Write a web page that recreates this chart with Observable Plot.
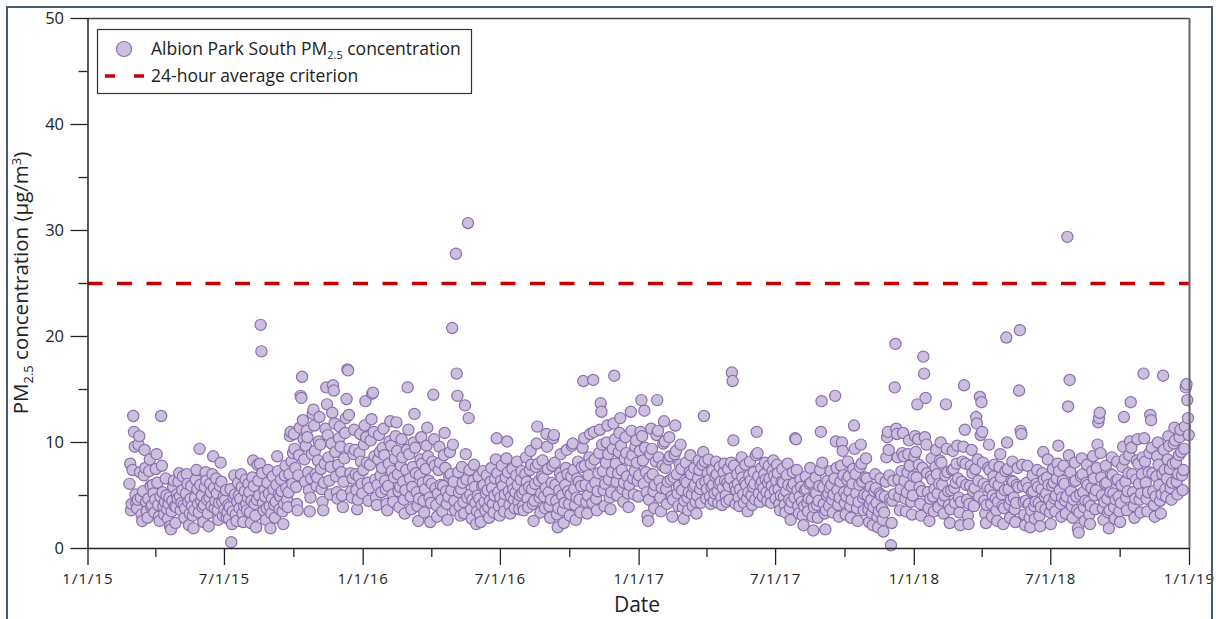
<!DOCTYPE html>
<html>
<head>
<meta charset="utf-8">
<script src="https://cdn.jsdelivr.net/npm/d3@7"></script>
<script src="https://cdn.jsdelivr.net/npm/@observablehq/plot@0.6"></script>
<style>
  html, body { margin: 0; padding: 0; background: #fff; }
  #wrap { position: relative; width: 1216px; height: 619px; overflow: hidden; }
  #border { position: absolute; left: 6px; top: 6px; width: 1203px; height: 720px; border: 2px solid #4b5a6d; box-sizing: content-box; pointer-events: none; }
  #chart { position: absolute; left: 0; top: 0; }
</style>
</head>
<body>
<div id="wrap"><div id="chart"></div><div id="border"></div></div>
<script>
// ---- Data (daily PM2.5, µg/m³), one sub-array per month ----
// 2015 starts on 25 Feb
const pm2015 = [
  [6.1, 8.0, 3.6, 4.2],
  [7.4, 12.5, 11.0, 9.6, 5.1, 4.3, 3.8, 4.6, 9.8, 10.6, 7.2, 4.8, 3.2, 2.6, 5.4, 6.9, 9.3, 7.6, 4.4, 3.5, 2.9, 4.7, 7.3, 8.4, 5.9, 3.9, 4.1, 6.0, 5.2, 3.4, 4.6],
  [7.5, 8.9, 6.2, 4.1, 3.0, 2.6, 4.9, 12.5, 7.8, 5.3, 4.0, 3.2, 4.4, 6.6, 5.0, 3.7, 2.8, 4.2, 4.8, 2.1, 1.8, 3.5, 4.5, 5.8, 6.4, 4.0, 2.4, 3.9, 5.1, 4.7],
  [6.3, 7.1, 4.9, 3.6, 4.3, 5.5, 6.8, 4.1, 2.9, 3.8, 5.2, 7.0, 6.1, 4.4, 2.2, 3.3, 4.7, 5.9, 4.0, 3.1, 1.9, 3.6, 4.8, 6.5, 7.4, 5.6, 4.2, 3.4, 9.4, 6.0, 4.5],
  [5.0, 3.9, 2.5, 4.1, 5.8, 7.2, 6.4, 4.6, 3.3, 2.1, 4.8, 6.1, 5.3, 4.0, 7.0, 8.7, 5.7, 3.8, 4.5, 6.6, 5.2, 3.6, 2.7, 4.3, 5.9, 8.1, 6.3, 4.4, 3.1, 4.9],
  [3.7, 4.6, 5.5, 2.9, 3.4, 4.1, 2.8, 3.9, 5.6, 0.6, 2.3, 3.5, 4.8, 6.9, 5.1, 3.2, 2.6, 4.4, 6.2, 5.0, 3.8, 4.7, 7.0, 5.8, 3.3, 2.5, 4.0, 5.4, 6.5, 4.2, 3.6],
  [4.8, 6.1, 5.3, 3.4, 2.4, 4.5, 6.7, 8.3, 5.9, 4.2, 3.1, 2.0, 4.6, 7.9, 6.4, 5.0, 8.0, 21.1, 18.6, 7.1, 4.3, 3.6, 5.5, 4.9, 2.7, 3.8, 6.2, 7.4, 5.2, 4.0, 1.9],
  [3.3, 4.7, 6.8, 5.6, 4.1, 2.9, 4.4, 6.0, 8.7, 7.3, 5.1, 3.7, 4.9, 6.5, 5.4, 3.5, 2.3, 4.2, 6.9, 7.8, 5.7, 4.6, 3.9, 5.3, 7.0, 10.6, 11.0, 8.2, 6.1, 9.0],
  [10.8, 9.4, 7.6, 5.8, 4.2, 3.6, 6.9, 8.8, 11.4, 14.4, 14.2, 16.2, 12.1, 10.3, 8.4, 6.3, 9.7, 11.1, 10.5, 7.2, 5.5, 3.5, 4.8, 6.6, 8.9, 12.7, 13.1, 11.6, 9.2, 7.0, 5.9],
  [6.7, 8.3, 10.1, 12.4, 9.8, 7.5, 5.6, 4.4, 3.6, 6.2, 8.0, 11.3, 15.2, 13.6, 10.7, 8.6, 6.4, 5.1, 7.7, 9.9, 12.8, 15.4, 14.9, 11.8, 9.1, 6.8, 5.3, 4.7, 7.9, 10.4],
  [11.5, 9.6, 7.2, 5.0, 3.9, 6.3, 8.5, 10.9, 12.3, 14.1, 16.9, 16.8, 12.6, 9.4, 7.1, 5.4, 4.8, 6.6, 8.9, 11.2, 9.3, 7.0, 5.5, 3.7, 4.6, 6.8, 9.0, 10.8, 8.2, 6.1, 5.2]
];
const pm2016 = [
  [7.4, 9.8, 11.6, 13.9, 10.5, 8.1, 6.2, 4.5, 5.7, 7.9, 10.2, 12.2, 14.6, 14.7, 11.0, 8.7, 6.5, 4.8, 4.1, 6.0, 8.4, 10.7, 9.1, 6.9, 5.3, 7.6, 9.5, 11.3, 8.8, 6.4, 5.6],
  [4.2, 3.6, 5.9, 8.0, 10.1, 12.0, 9.7, 7.3, 5.1, 4.4, 6.7, 8.5, 10.6, 11.9, 9.2, 7.0, 5.4, 3.9, 5.8, 7.8, 10.3, 8.6, 6.3, 4.6, 3.3, 5.5, 7.4, 9.3, 15.2],
  [11.2, 8.9, 6.6, 4.9, 3.7, 5.8, 7.7, 10.0, 12.7, 9.5, 7.1, 5.3, 4.0, 2.6, 4.7, 6.9, 8.4, 10.5, 8.0, 6.2, 4.5, 3.4, 5.6, 7.5, 9.7, 11.4, 8.7, 6.4, 4.8, 2.5, 4.3],
  [6.1, 8.2, 14.5, 10.3, 7.8, 5.7, 4.1, 3.0, 5.2, 7.4, 9.6, 8.1, 6.0, 4.6, 3.5, 5.9, 8.8, 10.9, 7.6, 5.4, 4.2, 2.7, 4.9, 6.8, 9.1, 7.0, 5.5, 20.8, 9.8, 6.3],
  [4.5, 3.6, 27.8, 16.5, 14.4, 7.2, 5.3, 4.0, 3.1, 5.6, 7.7, 6.2, 4.4, 3.3, 13.5, 8.9, 6.5, 4.8, 30.7, 12.3, 7.4, 5.1, 3.7, 2.8, 4.6, 6.4, 7.9, 5.8, 4.3, 2.3, 3.5],
  [5.0, 6.8, 4.7, 3.2, 2.5, 4.1, 5.9, 7.3, 6.0, 4.4, 3.6, 5.2, 6.9, 5.5, 3.9, 2.9, 4.5, 6.3, 7.6, 5.7, 4.2, 3.4, 5.0, 6.6, 8.4, 10.4, 7.1, 5.3, 4.0, 3.1],
  [4.8, 6.4, 7.8, 5.9, 4.3, 3.5, 5.1, 6.7, 8.5, 10.1, 7.2, 5.4, 4.1, 3.3, 4.9, 6.2, 7.5, 5.6, 4.6, 3.8, 5.3, 6.9, 8.2, 6.0, 4.4, 3.7, 5.0, 6.5, 7.3, 5.2, 4.0],
  [3.6, 5.5, 7.0, 8.6, 6.3, 4.7, 3.9, 5.8, 7.4, 9.2, 7.9, 5.6, 4.2, 2.6, 4.5, 6.1, 7.7, 9.9, 11.5, 8.0, 6.4, 4.8, 3.4, 5.2, 6.8, 8.3, 6.6, 4.9, 3.8, 5.7, 10.8],
  [9.6, 7.5, 5.3, 4.0, 2.9, 4.6, 6.2, 7.8, 10.4, 10.7, 8.1, 6.0, 4.5, 3.2, 2.0, 3.8, 5.5, 7.1, 8.9, 6.7, 5.0, 3.6, 2.4, 4.3, 6.0, 7.6, 9.3, 7.0, 5.4, 4.2],
  [3.1, 5.1, 6.8, 9.7, 9.9, 7.4, 5.6, 4.1, 2.7, 4.8, 6.6, 8.2, 6.3, 4.6, 3.4, 5.9, 7.7, 9.5, 15.8, 10.4, 7.8, 6.0, 4.4, 3.3, 5.0, 6.9, 8.6, 10.8, 8.0, 5.8, 4.3],
  [15.9, 11.0, 8.4, 6.2, 4.7, 3.6, 5.4, 7.1, 9.0, 11.2, 13.7, 12.9, 9.8, 7.3, 5.5, 4.0, 6.1, 8.1, 10.0, 11.6, 8.9, 6.5, 4.8, 3.7, 5.3, 7.2, 9.4, 11.8, 16.3, 10.3],
  [8.0, 6.3, 5.0, 7.1, 9.1, 10.9, 12.3, 9.7, 7.4, 5.6, 4.4, 6.2, 8.5, 10.5, 9.0, 6.8, 5.2, 3.9, 6.0, 8.3, 12.9, 11.1, 8.8, 6.6, 5.1, 7.3, 9.6, 10.2, 8.1, 6.4, 4.9]
];
const pm2017 = [
  [6.9, 9.2, 11.0, 14.0, 10.6, 8.3, 6.1, 13.0, 9.5, 7.2, 5.3, 3.1, 2.6, 4.6, 6.7, 8.9, 11.3, 9.4, 7.0, 5.4, 3.8, 6.0, 8.2, 10.7, 14.0, 11.1, 8.6, 6.4, 4.8, 3.5, 5.7],
  [7.8, 9.9, 12.0, 10.1, 7.6, 5.6, 4.2, 6.3, 8.4, 10.5, 8.7, 6.5, 4.9, 3.0, 4.6, 6.7, 8.9, 11.6, 9.2, 7.0, 5.2, 4.0, 5.9, 7.9, 9.8, 7.5, 5.5, 3.9],
  [2.8, 4.5, 6.4, 8.1, 6.2, 4.8, 3.6, 5.3, 7.2, 8.8, 7.0, 5.1, 4.0, 5.8, 7.6, 6.0, 4.4, 3.3, 5.0, 6.6, 8.3, 7.4, 5.6, 4.3, 6.1, 7.9, 9.1, 12.5, 8.2, 6.3, 4.7],
  [5.6, 7.1, 8.4, 6.5, 4.9, 4.2, 5.8, 7.3, 6.0, 4.5, 5.2, 6.8, 8.2, 7.0, 5.4, 4.3, 6.1, 7.7, 6.3, 4.8, 4.1, 5.7, 7.2, 8.0, 6.4, 5.0, 4.4, 6.2, 7.5, 5.9],
  [4.6, 6.6, 8.1, 16.6, 15.8, 10.2, 7.8, 5.9, 4.2, 5.5, 7.0, 6.1, 4.8, 4.0, 5.6, 7.4, 8.6, 6.7, 5.1, 4.3, 6.2, 7.9, 6.0, 4.7, 3.5, 5.3, 6.9, 8.2, 6.4, 5.0, 4.1],
  [5.8, 7.2, 6.1, 4.6, 8.8, 11.0, 9.0, 6.8, 5.2, 4.4, 6.0, 7.6, 6.3, 4.9, 5.7, 7.0, 8.1, 6.5, 5.3, 4.5, 6.2, 7.8, 6.6, 5.1, 4.3, 5.9, 7.3, 8.3, 6.9, 5.5],
  [4.7, 6.4, 7.9, 7.1, 5.6, 4.2, 3.6, 5.0, 6.3, 7.5, 6.2, 4.9, 4.1, 3.4, 5.4, 6.9, 8.0, 6.0, 4.6, 3.8, 2.7, 4.4, 5.8, 7.2, 6.1, 4.8, 10.4, 10.3, 7.4, 5.5, 4.0],
  [3.3, 4.9, 6.5, 5.8, 4.4, 3.1, 2.2, 4.0, 5.5, 6.8, 5.6, 4.3, 3.5, 4.7, 6.1, 7.6, 6.2, 4.6, 3.0, 1.7, 3.9, 5.3, 6.7, 5.2, 4.1, 2.9, 4.5, 5.9, 7.4, 11.0, 13.9],
  [8.1, 5.8, 4.2, 3.3, 1.8, 3.6, 5.0, 6.4, 5.2, 4.0, 5.7, 7.3, 6.0, 4.6, 3.4, 5.1, 6.6, 14.4, 10.1, 7.6, 5.5, 4.1, 3.0, 4.8, 6.3, 7.8, 10.0, 9.2, 6.9, 5.3],
  [4.3, 3.2, 4.9, 6.5, 8.2, 6.8, 5.4, 4.0, 2.9, 4.6, 6.1, 7.5, 11.6, 9.4, 7.0, 5.2, 3.8, 2.6, 4.4, 6.0, 7.7, 9.8, 8.0, 6.3, 4.8, 3.6, 5.1, 6.7, 8.5, 6.6, 5.0],
  [3.7, 2.5, 4.2, 5.8, 4.6, 3.3, 2.2, 3.9, 5.4, 7.0, 5.7, 4.3, 3.0, 2.0, 3.5, 5.2, 6.6, 5.0, 3.8, 2.7, 1.6, 3.4, 4.9, 6.3, 8.6, 10.5, 11.0, 9.3, 6.9, 4.7],
  [0.3, 2.4, 4.5, 6.4, 5.1, 15.2, 19.3, 11.3, 10.8, 8.6, 6.5, 4.9, 3.6, 5.6, 7.3, 9.0, 10.9, 8.7, 6.4, 4.7, 3.5, 5.3, 7.2, 8.9, 10.2, 7.8, 5.9, 4.4, 3.2, 5.0, 6.8]
];
const pm2018 = [
  [8.7, 10.6, 9.1, 6.7, 13.6, 10.3, 7.9, 5.8, 4.2, 3.1, 5.4, 7.6, 18.1, 16.5, 10.5, 14.2, 9.8, 7.1, 5.3, 3.8, 2.6, 4.7, 6.8, 8.5, 6.5, 4.9, 3.5, 5.6, 7.7, 9.3, 7.0],
  [5.2, 3.9, 6.1, 8.3, 10.0, 8.1, 6.0, 4.5, 3.3, 5.0, 6.9, 13.6, 9.4, 7.2, 5.4, 4.1, 2.4, 3.7, 5.5, 7.4, 9.2, 7.5, 5.7, 4.3, 6.2, 8.0, 9.7, 6.6],
  [4.8, 3.4, 2.2, 4.4, 6.3, 8.2, 9.6, 15.4, 11.2, 8.0, 6.0, 4.6, 3.1, 2.3, 4.2, 5.9, 7.8, 9.3, 7.1, 5.4, 4.0, 5.7, 7.5, 12.4, 11.8, 8.4, 6.4, 4.9, 14.3, 10.7, 13.8],
  [11.0, 8.1, 6.1, 4.5, 3.3, 2.4, 4.1, 5.8, 7.6, 9.8, 7.4, 5.6, 4.2, 3.0, 5.0, 6.8, 7.9, 6.2, 4.7, 3.6, 2.6, 4.4, 6.0, 7.7, 8.9, 6.7, 5.1, 4.0, 2.3, 3.8],
  [5.5, 7.3, 19.9, 10.0, 7.5, 5.6, 4.1, 2.9, 4.6, 6.4, 8.2, 6.3, 4.8, 3.7, 2.5, 4.3, 6.0, 7.6, 5.8, 14.9, 20.6, 11.1, 10.8, 7.9, 5.9, 4.4, 3.2, 2.2, 4.5, 6.2, 7.8],
  [5.7, 4.2, 2.9, 2.0, 3.6, 5.3, 6.9, 5.4, 4.0, 2.8, 4.4, 6.1, 7.4, 5.8, 4.3, 3.1, 2.1, 3.9, 5.6, 7.1, 9.1, 6.5, 4.9, 3.7, 5.2, 6.7, 8.4, 6.0, 4.6, 3.4],
  [2.3, 4.1, 5.9, 7.5, 6.2, 4.7, 3.5, 5.0, 6.6, 8.0, 9.7, 7.3, 5.5, 4.2, 3.0, 4.8, 6.4, 7.8, 6.1, 4.5, 3.3, 4.9, 29.4, 13.4, 8.8, 15.9, 7.2, 5.4, 4.0, 2.9, 4.6],
  [6.3, 8.1, 6.4, 4.9, 3.6, 1.9, 1.5, 3.4, 5.1, 6.8, 8.5, 7.0, 5.3, 3.9, 2.6, 4.5, 6.2, 7.9, 6.0, 4.4, 3.2, 2.3, 4.0, 5.7, 7.3, 8.7, 6.6, 5.0, 3.7, 5.5, 7.6],
  [9.8, 11.9, 12.3, 12.8, 9.0, 6.7, 5.0, 3.8, 2.7, 4.4, 6.1, 7.8, 6.2, 4.7, 3.4, 1.9, 3.6, 5.3, 7.0, 8.6, 6.9, 5.2, 3.9, 2.8, 4.6, 6.4, 8.2, 6.5, 4.9, 3.5],
  [2.5, 4.3, 6.0, 7.7, 9.6, 12.4, 8.4, 6.3, 4.8, 3.6, 5.4, 7.1, 8.8, 10.1, 13.8, 9.5, 7.0, 5.3, 4.0, 2.9, 4.7, 6.5, 8.3, 10.3, 8.0, 6.1, 4.6, 3.4, 5.2, 7.0, 8.6],
  [16.5, 10.4, 8.2, 6.2, 4.7, 3.5, 5.3, 7.2, 9.0, 12.6, 12.1, 9.5, 7.1, 5.4, 4.1, 3.0, 4.9, 6.8, 8.7, 10.0, 7.9, 6.0, 4.5, 3.3, 5.1, 7.0, 16.3, 9.3, 7.4, 5.6],
  [4.9, 6.6, 8.4, 10.6, 9.7, 7.5, 5.7, 4.6, 6.2, 8.0, 9.9, 11.4, 10.2, 8.1, 6.3, 5.1, 7.0, 8.8, 10.5, 11.2, 9.1, 6.9, 5.5, 7.4, 9.4, 11.5, 15.2, 15.5, 14.0, 12.3, 10.7]
];
const criterion = 25;
const yMajorTicks = [0, 10, 20, 30, 40, 50];
const yMinorTicks = [5, 15, 25, 35, 45];
const xMajorTicks = ["2015-01-01", "2015-07-01", "2016-01-01", "2016-07-01", "2017-01-01", "2017-07-01", "2018-01-01", "2018-07-01", "2019-01-01"];
const xMinorTicks = ["2015-04-01", "2015-10-01", "2016-04-01", "2016-10-01", "2017-04-01", "2017-10-01", "2018-04-01", "2018-10-01"];

// ---- Build table ----
const yearSpecs = [[2015, 1, 25, pm2015], [2016, 0, 1, pm2016], [2017, 0, 1, pm2017], [2018, 0, 1, pm2018]];
const data = yearSpecs.flatMap(([yr, m0, d0, months]) =>
  months.flatMap((vals, k) => vals.map((v, i) => ({
    date: new Date(Date.UTC(yr, m0 + k, (k === 0 ? d0 : 1) + i)),
    value: v
  }))));
const toDate = s => new Date(s + "T00:00:00Z");
const xDomain = [toDate("2015-01-01"), toDate("2019-01-01")];
const fmt = d => `${d.getUTCMonth() + 1}/${d.getUTCDate()}/${String(d.getUTCFullYear()).slice(2)}`;

const FONT = "'Open Sans', 'DejaVu Sans', sans-serif";
const fill = "#cbbfdd", stroke = "#8a6fae", red = "#c80000", ink = "#222";

const chart = Plot.plot({
  width: 1216,
  height: 619,
  marginLeft: 87.5,
  marginRight: 27,
  marginTop: 18,
  marginBottom: 71,
  style: { fontFamily: FONT, background: "transparent", color: ink, overflow: "visible" },
  x: { type: "utc", domain: xDomain },
  y: { domain: [0, 50] },
  marks: [
    Plot.ruleY([criterion], { stroke: red, strokeWidth: 3.3, strokeDasharray: "15,14.5" }),
    Plot.dot(data, { x: "date", y: "value", r: 5.6, fill: fill, stroke: stroke, strokeWidth: 1.2 }),
    Plot.ruleY([50], { stroke: "#444", strokeWidth: 1.5 }),
    Plot.ruleX([xDomain[1]], { stroke: "#666", strokeWidth: 2 }),
    Plot.ruleX([xDomain[0]], { stroke: ink, strokeWidth: 1.5 }),
    Plot.ruleY([0], { stroke: ink, strokeWidth: 1.5 }),
    Plot.axisY({ ticks: yMajorTicks, tickSize: 17, tickPadding: 7, fontSize: 16.5, label: null, stroke: ink, strokeWidth: 1.3 }),
    Plot.axisY({ ticks: yMinorTicks, tickSize: 9, tickFormat: () => "", label: null, stroke: ink, strokeWidth: 1.3 }),
    Plot.axisX({ ticks: xMajorTicks.map(toDate), tickSize: 17, tickPadding: 8, tickFormat: fmt, fontSize: 15, label: null, stroke: ink, strokeWidth: 1.3 }),
    Plot.axisX({ ticks: xMinorTicks.map(toDate), tickSize: 9, tickFormat: () => "", label: null, stroke: ink, strokeWidth: 1.3 })
  ]
});

document.getElementById("chart").appendChild(chart);
d3.select(chart).selectAll("[aria-label='x-axis tick label'] text").attr("letter-spacing", 1);

// ---- Axis titles & legend as real SVG text ----
const svg = d3.select(chart);

const yl = svg.append("text")
  .attr("transform", "translate(28,283) rotate(-90)")
  .attr("text-anchor", "middle")
  .attr("font-family", FONT).attr("font-size", 20.5).attr("fill", ink);
yl.append("tspan").text("PM");
yl.append("tspan").attr("font-size", 13).attr("dy", 5).text("2.5");
yl.append("tspan").attr("dy", -5).text(" concentration (µg/m");
yl.append("tspan").attr("font-size", 13).attr("dy", -7).text("3");
yl.append("tspan").attr("dy", 7).text(")");

svg.append("text")
  .attr("x", 637).attr("y", 612)
  .attr("text-anchor", "middle")
  .attr("font-family", FONT).attr("font-size", 21).attr("fill", ink)
  .text("Date");

const lg = svg.append("g").attr("text-anchor", "start");
lg.append("rect").attr("x", 97.5).attr("y", 29.5).attr("width", 374).attr("height", 64)
  .attr("fill", "#fff").attr("stroke", "#333").attr("stroke-width", 1.2);
lg.append("circle").attr("cx", 124).attr("cy", 49).attr("r", 7.5)
  .attr("fill", fill).attr("stroke", stroke).attr("stroke-width", 1.2);
const t1 = lg.append("text").attr("x", 151).attr("y", 55).attr("text-anchor", "start")
  .attr("font-family", FONT).attr("font-size", 17.5).attr("fill", ink);
t1.append("tspan").text("Albion Park South PM");
t1.append("tspan").attr("font-size", 11).attr("dy", 4).text("2.5");
t1.append("tspan").attr("dy", -4).text(" concentration");
lg.append("line").attr("x1", 105).attr("x2", 144).attr("y1", 76).attr("y2", 76)
  .attr("stroke", red).attr("stroke-width", 3.3).attr("stroke-dasharray", "10,19");
lg.append("text").attr("x", 151).attr("y", 82).attr("text-anchor", "start")
  .attr("font-family", FONT).attr("font-size", 17.5).attr("fill", ink)
  .text("24-hour average criterion");
</script>
</body>
</html>
